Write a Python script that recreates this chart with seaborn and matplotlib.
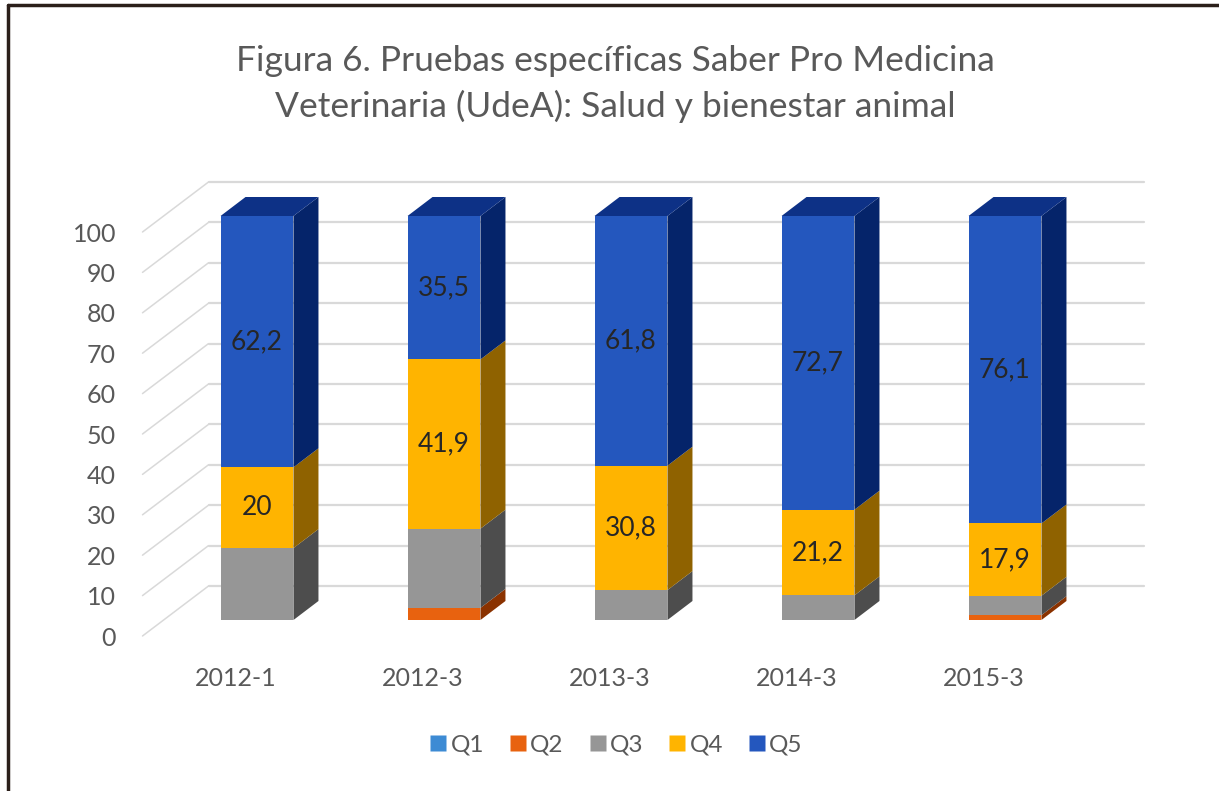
import numpy as np
import pandas as pd
import seaborn as sns
import matplotlib.pyplot as plt
from matplotlib.patches import Polygon
from matplotlib.lines import Line2D

# Data
periodos = ['2012-1', '2012-3', '2013-3', '2014-3', '2015-3']
quintiles = ['Q1', 'Q2', 'Q3', 'Q4', 'Q5']
q1 = [0, 0, 0, 0, 0]
q2 = [0, 3.0, 0, 0, 1.2]
q3 = [17.8, 19.6, 7.4, 6.1, 4.8]
q4 = [20, 41.9, 30.8, 21.2, 17.9]
q5 = [62.2, 35.5, 61.8, 72.7, 76.1]
etiquetas = ['Q4', 'Q5']  # only these segments carry value labels

colores = {'Q1': '#3d8bd4', 'Q2': '#e8620f', 'Q3': '#969696', 'Q4': '#ffb400', 'Q5': '#2457be'}
lados = {'Q1': '#1d4f80', 'Q2': '#8a3200', 'Q3': '#4d4d4d', 'Q4': '#8f6200', 'Q5': '#05246a'}
techo = {'Q1': '#2a6aa8', 'Q2': '#b04800', 'Q3': '#707070', 'Q4': '#c08800', 'Q5': '#0d3186'}

df = pd.DataFrame({'periodo': periodos, 'Q1': q1, 'Q2': q2, 'Q3': q3, 'Q4': q4, 'Q5': q5})
for i, q in enumerate(quintiles):
    df['cum_' + q] = df[quintiles[:i + 1]].sum(axis=1)

sns.set_theme(style='white')
plt.rcParams['font.family'] = ['Lato', 'DejaVu Sans']

W, H = 1219, 791
fig = plt.figure(figsize=(W / 100, H / 100), dpi=100)
fig.patch.set_facecolor('white')

# geometry (pixels)
cat_px = 187.0
val_px = 4.04
left_px, base_py = 142.5, 636
bar_dx_px, bar_dy_px = 21, 16      # bar front plane vs label plane
depth_dx_px, depth_dy_px = 25, 19  # bar depth
wall_dx_px, wall_dy_px = 66, 50    # back wall vs label plane

axw = 5 * cat_px / W
axh = 100 * val_px / H
ax = fig.add_axes([left_px / W, (H - base_py) / H, axw, axh])
axb = fig.add_axes([(left_px + bar_dx_px) / W, (H - base_py + bar_dy_px) / H, axw, axh])
for a in (ax, axb):
    a.set_xlim(-0.5, 4.5)
    a.set_ylim(0, 100)
    a.patch.set_alpha(0)
    for s in a.spines.values():
        s.set_visible(False)

# back wall gridlines and side wall diagonals
wdx = wall_dx_px / cat_px
wdy = wall_dy_px / val_px
for v in range(0, 101, 10):
    ax.plot([-0.5 + wdx, 4.5 + wdx], [v + wdy, v + wdy], color='#d9d9d9', lw=1.6, clip_on=False, zorder=1)
    ax.plot([-0.5, -0.5 + wdx], [v, v + wdy], color='#d9d9d9', lw=1.1, clip_on=False, zorder=1)

ax.set_yticks(range(0, 101, 10))
ax.set_xticks(range(len(periodos)))
ax.set_xticklabels(periodos)
ax.tick_params(axis='y', length=0, pad=19, labelsize=18, labelcolor='#595959')
ax.tick_params(axis='x', length=0, pad=22, labelsize=18, labelcolor='#595959')

# front faces: stacked via cumulative sums, tallest first
bw = 0.39
for q in reversed(quintiles):
    sns.barplot(data=df, x='periodo', y='cum_' + q, color=colores[q], saturation=1,
                width=bw, ax=axb, linewidth=0, order=periodos)
axb.set_xlim(-0.5, 4.5)
axb.set_ylim(0, 100)
axb.set_xlabel('')
axb.set_ylabel('')
axb.set_xticks([])
axb.set_yticks([])

# side and top faces
ddx = depth_dx_px / cat_px
ddy = depth_dy_px / val_px
for i, p in enumerate(periodos):
    xr = i + bw / 2
    xl = i - bw / 2
    lo = 0
    for q in quintiles:
        v = df.loc[i, q]
        hi = lo + v
        if v > 0:
            axb.add_patch(Polygon([(xr, lo), (xr + ddx, lo + ddy), (xr + ddx, hi + ddy), (xr, hi)],
                                  closed=True, facecolor=lados[q], edgecolor='none', clip_on=False))
            if q in etiquetas:
                axb.text(i, lo + v / 2, f'{v:g}'.replace('.', ','), ha='center', va='center',
                         fontsize=19, color='#262626')
            top_q = q
        lo = hi
    axb.add_patch(Polygon([(xl, lo), (xr, lo), (xr + ddx, lo + ddy), (xl + ddx, lo + ddy)],
                          closed=True, facecolor=techo[top_q], edgecolor='none', clip_on=False))

# title
fig.text(0.505, 1 - 61 / H, 'Figura 6. Pruebas específicas Saber Pro Medicina',
         ha='center', va='center', fontsize=25.5, color='#595959')
fig.text(0.505, 1 - 106 / H, 'Veterinaria (UdeA): Salud y bienestar animal',
         ha='center', va='center', fontsize=25.5, color='#595959')

# legend
handles = [Line2D([], [], marker='s', linestyle='none', markersize=11.5,
                  markerfacecolor=colores[q], markeredgecolor='none') for q in quintiles]
fig.legend(handles, quintiles, loc='center', bbox_to_anchor=(0.506, 1 - 745 / H), ncol=5,
           frameon=False, fontsize=17.5, labelcolor='#595959', handlelength=0.6,
           handletextpad=0.2, columnspacing=1.1)

# frame (top and left edges)
fig.add_artist(Line2D([8 / W, 1], [1 - 5 / H, 1 - 5 / H], color='#2b1f1a', lw=2.5))
fig.add_artist(Line2D([8 / W, 8 / W], [0, 1 - 5 / H], color='#2b1f1a', lw=2.5))

fig.savefig('out.png', dpi=100)
